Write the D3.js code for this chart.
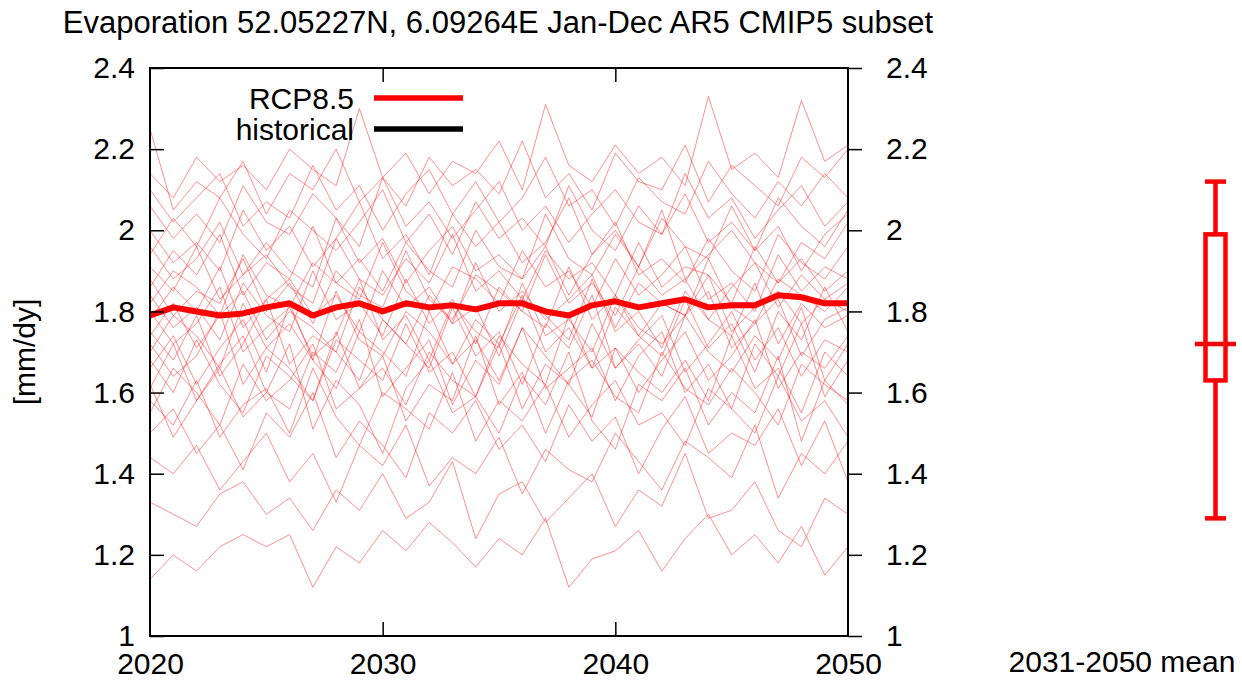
<!DOCTYPE html>
<html>
<head>
<meta charset="utf-8">
<script src="https://cdn.jsdelivr.net/npm/d3@7"></script>
<style>
  body { margin: 0; background: #fff; }
  svg text { font-family: "Liberation Sans", Arial, Helvetica, sans-serif; fill: #000; }
</style>
</head>
<body>
<div id="chart"></div>
<script>
// years on the x axis
const years = d3.range(2020, 2051);

// ensemble mean (thick line)
const meanSeries = [1.79,1.81,1.80,1.79,1.795,1.81,1.82,1.79,1.81,1.82,1.80,1.82,1.81,1.815,1.805,1.82,1.82,1.80,1.79,1.815,1.825,1.81,1.82,1.83,1.81,1.815,1.815,1.84,1.835,1.82,1.82];

// individual model runs (thin lines)
const members = [
  [1.14,1.20,1.16,1.22,1.25,1.22,1.25,1.12,1.22,1.18,1.26,1.21,1.28,1.23,1.17,1.24,1.20,1.29,1.12,1.19,1.21,1.26,1.16,1.24,1.30,1.20,1.25,1.18,1.27,1.15,1.22],
  [1.33,1.30,1.27,1.35,1.38,1.30,1.34,1.26,1.36,1.31,1.40,1.29,1.33,1.43,1.24,1.35,1.38,1.28,1.34,1.40,1.27,1.36,1.32,1.45,1.29,1.31,1.38,1.26,1.22,1.34,1.30],
  [1.44,1.40,1.47,1.36,1.43,1.50,1.38,1.45,1.33,1.47,1.42,1.52,1.37,1.44,1.40,1.49,1.35,1.46,1.41,1.38,1.50,1.43,1.36,1.48,1.44,1.39,1.52,1.34,1.45,1.40,1.48],
  [1.50,1.56,1.45,1.52,1.41,1.55,1.49,1.60,1.44,1.53,1.47,1.39,1.55,1.50,1.58,1.46,1.52,1.43,1.57,1.48,1.54,1.40,1.51,1.59,1.45,1.50,1.47,1.56,1.42,1.53,1.38],
  [1.58,1.52,1.63,1.49,1.57,1.61,1.50,1.66,1.54,1.47,1.60,1.56,1.51,1.65,1.48,1.58,1.53,1.62,1.49,1.57,1.63,1.52,1.55,1.47,1.61,1.56,1.50,1.64,1.53,1.58,1.49],
  [1.62,1.49,1.58,1.66,1.54,1.60,1.72,1.51,1.63,1.57,1.45,1.61,1.68,1.55,1.59,1.50,1.64,1.57,1.70,1.53,1.46,1.62,1.58,1.66,1.52,1.60,1.55,1.69,1.48,1.63,1.57],
  [1.55,1.66,1.60,1.52,1.67,1.58,1.63,1.72,1.56,1.61,1.69,1.53,1.62,1.58,1.74,1.57,1.65,1.50,1.63,1.68,1.59,1.55,1.70,1.61,1.57,1.66,1.60,1.52,1.67,1.62,1.58],
  [1.68,1.60,1.73,1.62,1.55,1.69,1.64,1.58,1.75,1.61,1.66,1.57,1.70,1.63,1.59,1.72,1.56,1.67,1.62,1.54,1.71,1.65,1.60,1.68,1.58,1.74,1.61,1.66,1.55,1.70,1.64],
  [1.61,1.72,1.58,1.67,1.74,1.60,1.56,1.70,1.65,1.78,1.59,1.66,1.73,1.57,1.68,1.62,1.76,1.61,1.66,1.71,1.58,1.69,1.75,1.60,1.67,1.56,1.72,1.64,1.77,1.59,1.68],
  [1.72,1.64,1.69,1.80,1.62,1.71,1.66,1.58,1.73,1.68,1.63,1.77,1.65,1.70,1.59,1.74,1.67,1.62,1.79,1.66,1.71,1.60,1.68,1.75,1.63,1.69,1.78,1.61,1.70,1.66,1.74],
  [1.66,1.74,1.62,1.71,1.78,1.65,1.82,1.68,1.61,1.75,1.70,1.64,1.80,1.67,1.73,1.63,1.76,1.69,1.62,1.77,1.66,1.72,1.64,1.79,1.70,1.65,1.74,1.68,1.81,1.63,1.72],
  [1.75,1.68,1.79,1.64,1.72,1.83,1.67,1.74,1.70,1.63,1.78,1.72,1.66,1.81,1.69,1.75,1.62,1.77,1.71,1.84,1.66,1.73,1.79,1.65,1.72,1.80,1.68,1.76,1.64,1.73,1.70],
  [1.70,1.79,1.74,1.66,1.82,1.71,1.77,1.68,1.85,1.73,1.69,1.80,1.75,1.67,1.78,1.72,1.84,1.70,1.76,1.66,1.81,1.74,1.69,1.83,1.71,1.77,1.65,1.80,1.73,1.86,1.75],
  [1.80,1.72,1.77,1.86,1.70,1.76,1.81,1.69,1.74,1.88,1.73,1.79,1.68,1.82,1.75,1.71,1.87,1.74,1.78,1.70,1.84,1.76,1.72,1.79,1.85,1.71,1.77,1.83,1.69,1.78,1.81],
  [1.74,1.82,1.71,1.79,1.85,1.73,1.80,1.76,1.70,1.86,1.78,1.72,1.84,1.77,1.81,1.69,1.83,1.79,1.73,1.88,1.75,1.80,1.71,1.85,1.78,1.74,1.87,1.72,1.82,1.76,1.79],
  [1.84,1.76,1.81,1.73,1.87,1.79,1.75,1.90,1.78,1.82,1.74,1.88,1.77,1.83,1.72,1.86,1.80,1.76,1.91,1.78,1.84,1.74,1.82,1.79,1.89,1.75,1.81,1.85,1.77,1.83,1.80],
  [1.78,1.86,1.80,1.91,1.76,1.83,1.88,1.79,1.84,1.75,1.90,1.81,1.86,1.77,1.92,1.80,1.85,1.78,1.83,1.89,1.76,1.87,1.82,1.79,1.93,1.81,1.77,1.88,1.84,1.80,1.86],
  [1.88,1.79,1.85,1.82,1.93,1.80,1.87,1.77,1.90,1.84,1.81,1.95,1.83,1.78,1.89,1.85,1.80,1.94,1.82,1.87,1.79,1.91,1.84,1.88,1.78,1.86,1.92,1.81,1.89,1.83,1.87],
  [1.82,1.90,1.86,1.79,1.94,1.84,1.81,1.92,1.87,1.83,1.97,1.85,1.80,1.91,1.88,1.82,1.95,1.86,1.90,1.81,1.93,1.84,1.89,1.96,1.83,1.87,1.80,1.94,1.85,1.91,1.88],
  [1.91,1.85,1.96,1.83,1.89,1.94,1.86,1.82,1.98,1.88,1.84,1.93,1.87,1.99,1.85,1.90,1.83,1.95,1.88,1.92,1.84,1.97,1.86,1.91,1.89,1.82,1.96,1.87,1.93,1.85,1.90],
  [1.86,1.95,1.89,1.99,1.84,1.92,1.88,2.01,1.87,1.93,1.85,1.97,1.90,1.86,2.00,1.91,1.88,1.96,1.84,1.94,2.02,1.89,1.93,1.87,1.98,1.90,1.85,1.99,1.92,1.88,1.96],
  [1.96,1.88,1.93,2.02,1.89,1.97,1.90,1.86,2.03,1.92,1.98,1.87,1.95,2.01,1.90,1.94,1.88,2.04,1.93,1.89,1.99,1.91,2.05,1.88,1.94,2.00,1.92,1.87,1.97,1.93,2.02],
  [2.00,1.92,1.97,1.90,2.05,1.95,2.01,1.91,1.98,2.07,1.93,1.99,1.89,2.04,1.96,2.02,1.92,1.97,2.08,1.94,2.00,1.91,2.03,1.96,1.93,2.06,1.95,2.01,1.90,1.99,2.04],
  [1.94,2.03,1.96,2.08,1.99,1.93,2.05,2.00,1.95,2.02,2.10,1.97,2.04,1.94,2.07,1.98,2.03,1.96,2.11,2.00,1.95,2.06,1.99,2.09,1.97,2.02,1.95,2.08,2.01,1.96,2.05],
  [2.06,1.98,2.04,1.97,2.11,2.02,1.99,2.09,2.03,1.96,2.13,2.01,2.07,1.98,2.05,2.12,2.00,2.06,1.97,2.04,2.10,2.02,1.99,2.14,2.03,2.08,1.98,2.05,2.11,2.01,2.07],
  [2.10,2.02,2.08,2.14,2.01,2.07,2.03,2.16,2.05,2.11,2.00,2.09,2.15,2.04,2.12,2.02,2.08,2.18,2.06,2.10,2.01,2.13,2.07,2.04,2.17,2.09,2.03,2.12,2.06,2.14,2.08],
  [2.25,2.05,2.12,2.08,2.17,2.04,2.14,2.10,2.20,2.07,2.13,2.06,2.18,2.11,2.15,2.09,2.22,2.08,2.14,2.05,2.19,2.12,2.10,2.21,2.07,2.16,2.11,2.06,2.18,2.13,2.20],
  [2.14,2.08,2.18,2.12,2.16,2.10,2.20,2.15,2.11,2.30,2.13,2.19,2.09,2.17,2.14,2.22,2.10,2.31,2.16,2.12,2.21,2.14,2.18,2.11,2.33,2.15,2.19,2.13,2.32,2.17,2.21]
];

// 2031-2050 mean distribution (box plot)
const boxStats = { min: 1.29, q1: 1.63, median: 1.72, q3: 1.99, max: 2.12 };

const yTicks = [1, 1.2, 1.4, 1.6, 1.8, 2, 2.2, 2.4];
const xTicks = [2020, 2030, 2040, 2050];

const width = 1242, height = 681;
const margin = { left: 150, right: 394, top: 68, bottom: 45 };
const plotW = width - margin.left - margin.right;
const plotH = height - margin.top - margin.bottom;

const svg = d3.select("#chart").append("svg")
    .attr("width", width)
    .attr("height", height);

const x = d3.scaleLinear().domain([2020, 2050]).range([margin.left, margin.left + plotW]);
const y = d3.scaleLinear().domain([1, 2.4]).range([margin.top + plotH, margin.top]);

svg.append("clipPath").attr("id", "plotclip")
  .append("rect")
    .attr("x", margin.left).attr("y", margin.top)
    .attr("width", plotW).attr("height", plotH);

const line = d3.line()
    .x((d, i) => x(years[i]))
    .y(d => y(d));

// thin member lines
svg.append("g")
    .attr("clip-path", "url(#plotclip)")
    .selectAll("path")
    .data(members)
    .join("path")
    .attr("d", line)
    .attr("fill", "none")
    .attr("stroke", "#ff0000")
    .attr("stroke-opacity", 0.55)
    .attr("stroke-width", 0.8);

// thick mean line
svg.append("path")
    .datum(meanSeries)
    .attr("clip-path", "url(#plotclip)")
    .attr("d", line)
    .attr("fill", "none")
    .attr("stroke", "#ff0000")
    .attr("stroke-width", 6)
    .attr("stroke-linejoin", "round");

// axes (gnuplot style: ticks inside, right ticks outside)
const fontSize = 30;
svg.append("g")
    .attr("transform", `translate(${margin.left},0)`)
    .call(d3.axisLeft(y).tickValues(yTicks).tickFormat(d3.format("~g")).tickSize(-14).tickPadding(15))
    .call(g => g.select(".domain").remove());

svg.append("g")
    .attr("transform", `translate(${margin.left + plotW},0)`)
    .call(d3.axisRight(y).tickValues(yTicks).tickFormat(d3.format("~g")).tickSize(14).tickPadding(24))
    .call(g => g.select(".domain").remove());

svg.append("g")
    .attr("transform", `translate(0,${margin.top + plotH})`)
    .call(d3.axisBottom(x).tickValues(xTicks).tickFormat(d3.format("d")).tickSize(-14).tickPadding(17))
    .call(g => g.select(".domain").remove())
    .call(g => g.selectAll(".tick").filter(d => d === 2020 || d === 2050).select("line").remove());

svg.append("g")
    .attr("transform", `translate(0,${margin.top})`)
    .call(d3.axisTop(x).tickValues(xTicks.slice(1, 3)).tickSize(-14).tickFormat(""))
    .call(g => g.select(".domain").remove());

svg.selectAll(".tick line").attr("stroke", "#000").attr("stroke-width", 1.5);
svg.selectAll(".tick text")
    .style("font-size", fontSize + "px")
    .style("font-family", "'Liberation Sans', Arial, sans-serif")
    .attr("fill", "#000");

// border
svg.append("rect")
    .attr("x", margin.left).attr("y", margin.top)
    .attr("width", plotW).attr("height", plotH)
    .attr("fill", "none")
    .attr("stroke", "#000")
    .attr("stroke-width", 2);

// title
svg.append("text")
    .attr("x", 498).attr("y", 33)
    .attr("text-anchor", "middle")
    .style("font-size", "31px")
    .text("Evaporation 52.05227N, 6.09264E Jan-Dec AR5 CMIP5 subset");

// y label
svg.append("text")
    .attr("transform", `translate(35,${margin.top + plotH / 2}) rotate(-90)`)
    .attr("text-anchor", "middle")
    .style("font-size", fontSize + "px")
    .text("[mm/dy]");

// legend
const legend = [
  { name: "RCP8.5", color: "#ff0000" },
  { name: "historical", color: "#000000" }
];
const lg = svg.append("g");
legend.forEach((d, i) => {
  const ly = 98 + i * 31;
  lg.append("text")
    .attr("x", 354).attr("y", ly)
    .attr("dy", "0.35em")
    .attr("text-anchor", "end")
    .style("font-size", fontSize + "px")
    .text(d.name);
  lg.append("line")
    .attr("x1", 374).attr("x2", 463)
    .attr("y1", ly).attr("y2", ly)
    .attr("stroke", d.color)
    .attr("stroke-width", 5.5);
});

// box plot for 2031-2050 mean
const bx = 1215.5, bw = 20, capW = 21, medW = 41;
const box = svg.append("g")
    .attr("stroke", "#ff0000")
    .attr("stroke-width", 4.5)
    .attr("fill", "none");
box.append("line").attr("x1", bx).attr("x2", bx).attr("y1", y(boxStats.max)).attr("y2", y(boxStats.q3));
box.append("line").attr("x1", bx).attr("x2", bx).attr("y1", y(boxStats.q1)).attr("y2", y(boxStats.min));
box.append("line").attr("x1", bx - capW / 2).attr("x2", bx + capW / 2).attr("y1", y(boxStats.max)).attr("y2", y(boxStats.max));
box.append("line").attr("x1", bx - capW / 2).attr("x2", bx + capW / 2).attr("y1", y(boxStats.min)).attr("y2", y(boxStats.min));
box.append("rect")
    .attr("x", bx - bw / 2).attr("y", y(boxStats.q3))
    .attr("width", bw).attr("height", y(boxStats.q1) - y(boxStats.q3));
box.append("line").attr("x1", bx - medW / 2).attr("x2", bx + medW / 2).attr("y1", y(boxStats.median)).attr("y2", y(boxStats.median));

svg.append("text")
    .attr("x", 1122).attr("y", 672)
    .attr("text-anchor", "middle")
    .style("font-size", fontSize + "px")
    .text("2031-2050 mean");
</script>
</body>
</html>
